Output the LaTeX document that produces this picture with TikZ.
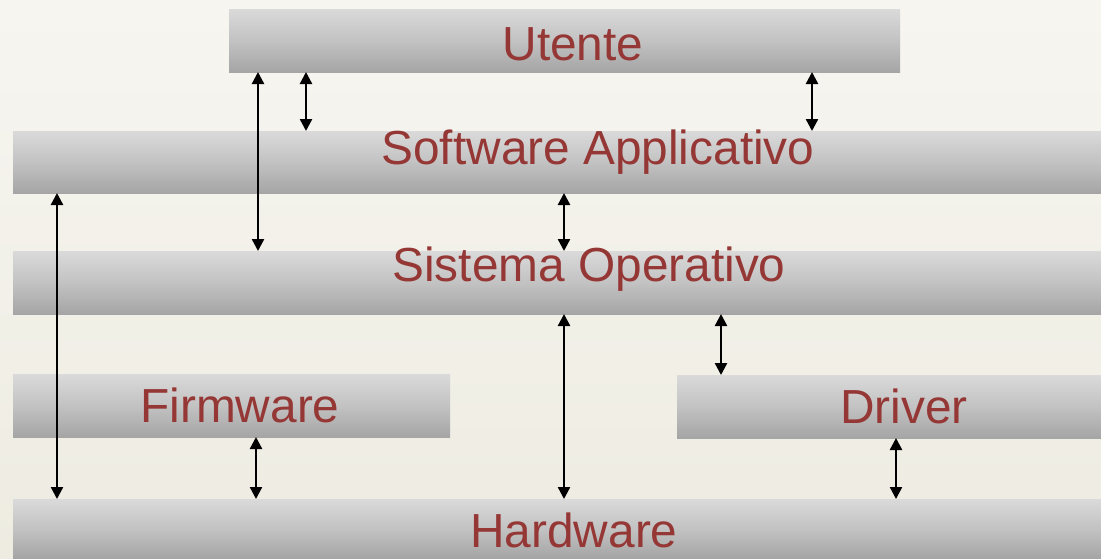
\documentclass[tikz,border=0pt]{standalone}
\usepackage{fontspec}
\setmainfont{Liberation Sans}
\usetikzlibrary{arrows.meta,fit}
\definecolor{bgtop}{HTML}{F6F5F0}
\definecolor{bgbot}{HTML}{EEECE1}
\definecolor{bartop}{HTML}{DADADA}
\definecolor{barbot}{HTML}{A5A5A5}
\definecolor{txt}{HTML}{953735}
\begin{document}
\begin{tikzpicture}[x=0.5pt,y=-0.5pt,
  bar/.style={rectangle, inner sep=0pt, outer sep=0pt, draw=none, top color=bartop, bottom color=barbot, middle color=bartop!55!barbot},
  lbl/.style={anchor=base, text=txt, font=\fontsize{23.9}{28}\selectfont, inner sep=0pt},
  link/.style={{Triangle[width=6pt,length=6pt]}-{Triangle[width=6pt,length=6pt]}, line width=1.2pt, black}]
\useasboundingbox (0,0) rectangle (1101,558);
\path[top color=bgtop, bottom color=bgbot] (0,0) rectangle (1101,558);

% bars
\node[bar, fit={(229,9) (900,72)}] (ut) {};
\node[bar, fit={(13,131) (1101,193)}] (sa) {};
\node[bar, fit={(13,251) (1101,314)}] (so) {};
\node[bar, fit={(13,374) (450,437)}] (fw) {};
\node[bar, fit={(677,375) (1101,438)}] (dr) {};
\node[bar, fit={(13,499) (1101,558)}] (hw) {};

% labels
\node[lbl] (tut) at (573,60) {Utente};
\node[lbl] (tsa) at (598,164) {Software Applicativo};
\node[lbl] (tso) at (589,281) {Sistema Operativo};
\node[lbl] (tfw) at (240,422) {Firmware};
\node[lbl] (tdr) at (904,423) {Driver};
\node[lbl] (thw) at (574,547) {Hardware};

% connectors
\draw[link] (258,0 |- ut.south) -- (258,0 |- so.north);
\draw[link] (306,0 |- ut.south) -- (306,0 |- sa.north);
\draw[link] (812,0 |- ut.south) -- (812,0 |- sa.north);
\draw[link] (57,0 |- sa.south) -- (57,0 |- hw.north);
\draw[link] (564,0 |- sa.south) -- (564,0 |- so.north);
\draw[link] (564,0 |- so.south) -- (564,0 |- hw.north);
\draw[link] (721,0 |- so.south) -- (721,0 |- dr.north);
\draw[link] (256,0 |- fw.south) -- (256,0 |- hw.north);
\draw[link] (896,0 |- dr.south) -- (896,0 |- hw.north);
\end{tikzpicture}
\end{document}
